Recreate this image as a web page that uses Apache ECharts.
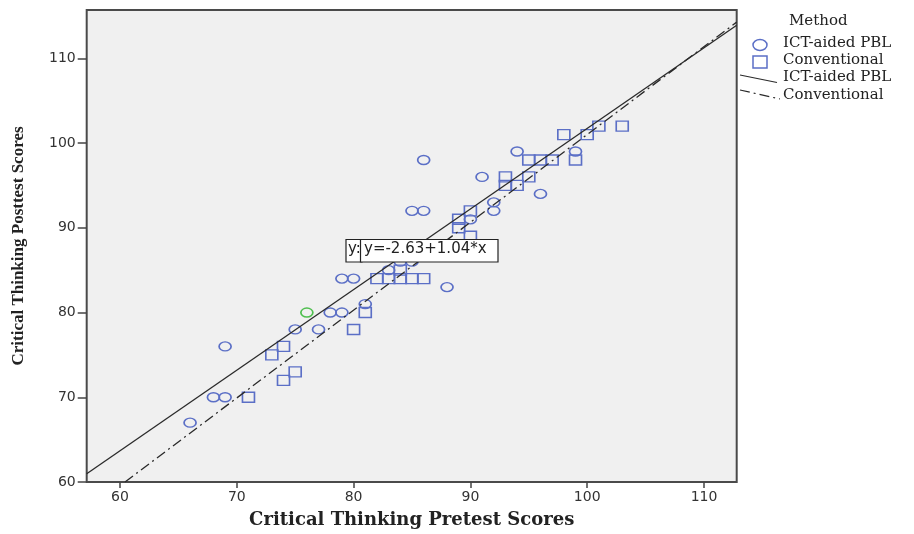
<!DOCTYPE html>
<html>
<head>
<meta charset="utf-8">
<script src="https://cdn.jsdelivr.net/npm/echarts/dist/echarts.min.js"></script>
<style>
html,body{margin:0;padding:0;background:#fff;}
#chart{width:914px;height:534px;}
</style>
</head>
<body>
<div id="chart"></div>
<script>
// ---- data ----
var xTicks = [60, 70, 80, 90, 100, 110];
var yTicks = [60, 70, 80, 90, 100, 110];

// ICT-aided PBL group (circles) [pretest, posttest]
var ictPoints = [
  [66,67],[68,70],[69,70],[69,76],[75,78],[77,78],[78,80],[79,80],
  [79,84],[80,84],[81,81],[83,85],[84,86],[85,86],[88,83],[85,92],
  [86,92],[86,98],[90,91],[91,96],[92,93],[92,92],[94,99],[96,94],[99,99]
];
// highlighted (green) ICT-aided PBL point
var ictHighlight = [[76,80]];

// Conventional group (squares)
var convPoints = [
  [71,70],[74,72],[75,73],[73,75],[74,76],[80,78],[81,80],[82,84],
  [83,84],[84,84],[85,84],[86,84],[84,85],[89,90],[89,91],[90,92],
  [90,89],[93,96],[93,95],[94,95],[95,96],[95,98],[96,98],[97,98],
  [99,98],[98,101],[100,101],[101,102],[103,102]
];

// fit lines, end points
var ictFit = [[57.15,60.98],[112.8,113.9]];
var convFit = [[60.43,60.0],[112.8,114.27]];

var fitLabel = 'y=-2.63+1.04*x';
var legendTitle = 'Method';
var groupNames = ['ICT-aided PBL', 'Conventional'];
var xTitle = 'Critical Thinking Pretest Scores';
var yTitle = 'Critical Thinking Posttest Scores';

// ---- chart ----
var chart = echarts.init(document.getElementById('chart'), null, {renderer:'canvas'});
var ellipsePath = 'path://M0,50 A50,50 0 1,1 100,50 A50,50 0 1,1 0,50 Z';
var squarePath = 'path://M0,0 L100,0 L100,100 L0,100 Z';
var blue = '#5b6fc6';
var axisColor = '#444';
var legendFont = '15px "DejaVu Serif"';

var option = {
  animation: false,
  backgroundColor: '#fff',
  grid: {
    left: 86.7, right: 177.3, top: 10, bottom: 50.7,
    show: true, backgroundColor: '#f0f0f0', borderColor: '#4a4a4a', borderWidth: 2
  },
  xAxis: {
    type: 'value', min: 57.15, max: 112.8,
    name: xTitle, nameLocation: 'middle', nameGap: 29,
    nameTextStyle: {fontFamily: 'DejaVu Serif', fontWeight: 'bold', fontSize: 18, color: '#222'},
    axisLine: {show: false},
    splitLine: {show: false},
    axisTick: {show: true, customValues: xTicks, length: 6, lineStyle: {color: axisColor, width: 1.5}},
    axisLabel: {customValues: xTicks, margin: 8,
      fontFamily: 'DejaVu Sans', fontSize: 14, color: '#333'}
  },
  yAxis: {
    type: 'value', min: 60, max: 115.7,
    name: yTitle, nameLocation: 'middle', nameGap: 60, nameRotate: 90,
    nameTextStyle: {fontFamily: 'Liberation Serif', fontWeight: 'bold', fontSize: 17, color: '#222'},
    axisLine: {show: false},
    splitLine: {show: false},
    axisTick: {show: true, customValues: yTicks, length: 9, lineStyle: {color: axisColor, width: 1.5}},
    axisLabel: {customValues: yTicks, margin: 11,
      fontFamily: 'DejaVu Sans', fontSize: 14, color: '#333'}
  },
  series: [
    {
      name: groupNames[0], type: 'scatter', data: ictPoints,
      symbol: ellipsePath, symbolSize: [12, 9],
      itemStyle: {color: 'rgba(0,0,0,0)', borderColor: blue, borderWidth: 1.5, opacity: 1}
    },
    {
      name: groupNames[0] + ' highlight', type: 'scatter', data: ictHighlight,
      symbol: ellipsePath, symbolSize: [12, 9],
      itemStyle: {color: 'rgba(0,0,0,0)', borderColor: '#4fbf4f', borderWidth: 1.5, opacity: 1}
    },
    {
      name: groupNames[1], type: 'scatter', data: convPoints,
      symbol: squarePath, symbolSize: [12, 10],
      itemStyle: {color: 'rgba(0,0,0,0)', borderColor: blue, borderWidth: 1.5, opacity: 1}
    },
    {
      name: groupNames[0] + ' fit', type: 'line', data: ictFit, symbol: 'none',
      lineStyle: {color: '#2a2a2a', width: 1.3}, z: 3
    },
    {
      name: groupNames[1] + ' fit', type: 'line', data: convFit, symbol: 'none',
      lineStyle: {color: '#2a2a2a', width: 1.3, type: [10, 4, 2, 4]}, z: 3
    }
  ],
  graphic: [
    // legend
    {type: 'text', left: 789, top: 14, style: {text: legendTitle, font: legendFont, fill: '#222'}},
    {type: 'ellipse', shape: {cx: 760, cy: 45, rx: 7, ry: 5.5}, style: {fill: 'none', stroke: blue, lineWidth: 1.5}},
    {type: 'rect', shape: {x: 753, y: 56, width: 14, height: 12}, style: {fill: 'none', stroke: blue, lineWidth: 1.5}},
    {type: 'line', shape: {x1: 740, y1: 75, x2: 777, y2: 82.5}, style: {stroke: '#2a2a2a', lineWidth: 1.2}},
    {type: 'line', shape: {x1: 740, y1: 90, x2: 780, y2: 99}, style: {stroke: '#2a2a2a', lineWidth: 1.2, lineDash: [10, 4, 2, 4]}},
    {type: 'text', left: 783, top: 36, style: {text: groupNames[0], font: legendFont, fill: '#222'}},
    {type: 'text', left: 783, top: 53, style: {text: groupNames[1], font: legendFont, fill: '#222'}},
    {type: 'text', left: 783, top: 70, style: {text: groupNames[0], font: legendFont, fill: '#222'}},
    {type: 'text', left: 783, top: 88, style: {text: groupNames[1], font: legendFont, fill: '#222'}},
    // fit equation label
    {type: 'rect', z: 10, shape: {x: 346, y: 239.5, width: 16, height: 22.5}, style: {fill: '#fff', stroke: '#222', lineWidth: 1.2}},
    {type: 'text', z: 11, x: 348, y: 242, style: {text: 'y:', font: '15px "DejaVu Sans"', fill: '#222'}},
    {type: 'rect', z: 12, shape: {x: 360.5, y: 239.5, width: 137.5, height: 22.5}, style: {fill: '#fff', stroke: '#222', lineWidth: 1.2}},
    {type: 'text', z: 13, x: 364, y: 242, style: {text: fitLabel, font: '15px "DejaVu Sans"', fill: '#222'}}
  ]
};
chart.setOption(option);
</script>
</body>
</html>
